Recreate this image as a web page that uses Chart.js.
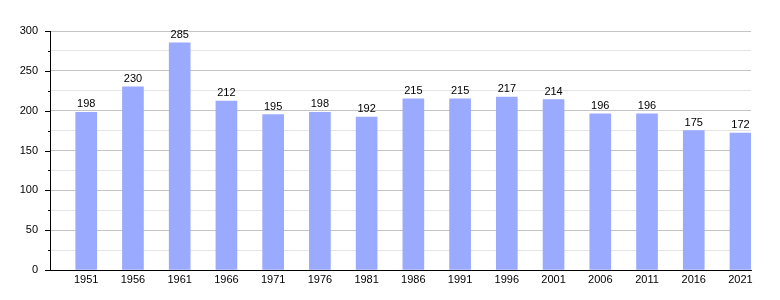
<!DOCTYPE html>
<html lang="fr">
<head>
<meta charset="UTF-8">
<title>Population</title>
<script src="https://cdn.jsdelivr.net/npm/chart.js@4.4.1/dist/chart.umd.min.js"></script>
<style>
  body { margin: 0; background: #fff; }
  canvas { display: block; }
</style>
</head>
<body>
<canvas id="popChart" width="780" height="300"></canvas>
<script>
const years = [1951, 1956, 1961, 1966, 1971, 1976, 1981, 1986, 1991, 1996, 2001, 2006, 2011, 2016, 2021];
const population = [198, 230, 285, 212, 195, 198, 192, 215, 215, 217, 214, 196, 196, 175, 172];
const yTicks = [0, 50, 100, 150, 200, 250, 300];

const FONT = 'Liberation Sans, Arial, sans-serif';

// values above the bars + small/large tick marks on the y axis
const extras = {
  id: 'extras',
  afterDatasetsDraw(chart) {
    const ctx = chart.ctx;
    const meta = chart.getDatasetMeta(0);
    ctx.save();
    ctx.font = '11px ' + FONT;
    ctx.fillStyle = '#000';
    ctx.textAlign = 'center';
    ctx.textBaseline = 'alphabetic';
    meta.data.forEach((bar, i) => {
      ctx.fillText(String(population[i]), bar.x, bar.y - 5);
    });
    const ys = chart.scales.y;
    ctx.strokeStyle = '#000';
    ctx.lineWidth = 1;
    ys.ticks.forEach(t => {
      const py = Math.round(ys.getPixelForValue(t.value)) + 0.5;
      const len = t.value % 50 === 0 ? 5 : 2;
      ctx.beginPath();
      ctx.moveTo(ys.right - len, py);
      ctx.lineTo(ys.right, py);
      ctx.stroke();
    });
    ctx.restore();
  }
};

new Chart(document.getElementById('popChart'), {
  type: 'bar',
  data: {
    datasets: [{
      data: years.map((y, i) => ({ x: y, y: population[i] })),
      backgroundColor: '#99aaff',
      borderWidth: 0,
      barThickness: 21
    }]
  },
  options: {
    responsive: false,
    animation: false,
    layout: { padding: { top: 31, right: 29, left: 0, bottom: 0 } },
    plugins: { legend: { display: false }, tooltip: { enabled: false } },
    scales: {
      x: {
        type: 'linear',
        offset: false,
        min: years[0] - 3.875,
        max: years[years.length - 1] + 1.125,
        afterBuildTicks: s => { s.ticks = years.map(v => ({ value: v })); },
        afterFit: s => { s.height = 30; },
        grid: { display: false, drawTicks: false },
        border: { color: '#000', width: 1 },
        ticks: {
          autoSkip: false,
          maxRotation: 0,
          padding: 3,
          color: '#000',
          font: { family: FONT, size: 11 },
          callback: v => String(v)
        }
      },
      y: {
        min: 0,
        max: 300,
        afterBuildTicks: s => {
          const t = [];
          for (let v = 0; v <= 300; v += 25) t.push({ value: v });
          s.ticks = t;
        },
        afterFit: s => { s.width = 50; },
        grid: {
          drawTicks: false,
          color: c => (c.tick && c.tick.value % 50 === 0) ? '#c4c4c4' : '#e4e4e4'
        },
        border: { color: '#000', width: 1 },
        ticks: {
          padding: 12,
          color: '#000',
          font: { family: FONT, size: 11 },
          callback: v => yTicks.includes(v) ? String(v) : ''
        }
      }
    }
  },
  plugins: [extras]
});
</script>
</body>
</html>
